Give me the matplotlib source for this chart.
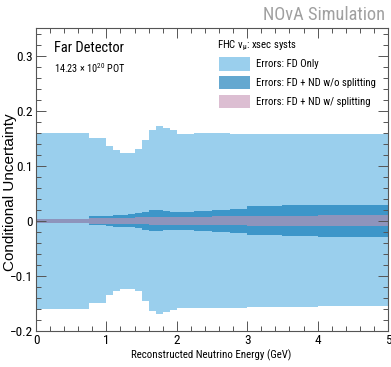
import matplotlib
matplotlib.use("Agg")
import matplotlib.pyplot as plt
from matplotlib.patches import Rectangle
from matplotlib import font_manager as fm
import numpy as np

# ---- data ----
edges = [0, 0.75, 1.0, 1.1, 1.2, 1.3, 1.4, 1.5, 1.6, 1.7, 1.8, 1.9, 2.0,
         2.25, 2.5, 2.75, 3.0, 3.5, 4.0, 5.0]
fd_up = [0.160, 0.151, 0.136, 0.129, 0.124, 0.124, 0.130, 0.146, 0.165, 0.172,
         0.168, 0.165, 0.158, 0.159, 0.159, 0.158, 0.158, 0.157, 0.157]
fd_lo = [-0.160, -0.150, -0.134, -0.128, -0.123, -0.123, -0.128, -0.146, -0.163,
         -0.170, -0.166, -0.162, -0.158, -0.158, -0.158, -0.158, -0.157, -0.156, -0.155]
nosplit_up = [0.004, 0.0087, 0.0095, 0.0105, 0.011, 0.012, 0.0135, 0.016, 0.019,
              0.019, 0.017, 0.016, 0.016, 0.018, 0.020, 0.022, 0.026, 0.028, 0.029]
nosplit_lo = [-0.004, -0.0082, -0.0095, -0.0105, -0.011, -0.012, -0.0135, -0.016,
              -0.018, -0.018, -0.017, -0.016, -0.016, -0.018, -0.020, -0.022,
              -0.026, -0.028, -0.029]
split_up = [0.004, 0.0055, 0.006, 0.006, 0.006, 0.006, 0.0065, 0.0065, 0.007,
            0.007, 0.007, 0.007, 0.0075, 0.0075, 0.008, 0.008, 0.009, 0.0095, 0.010]
split_lo = [-0.004, -0.0055, -0.006, -0.006, -0.006, -0.006, -0.0065, -0.0065,
            -0.007, -0.007, -0.007, -0.007, -0.0075, -0.0075, -0.008, -0.008,
            -0.009, -0.0095, -0.010]
legend_labels = ["Errors: FD Only", "Errors: FD + ND w/o splitting",
                 "Errors: FD + ND w/ splitting"]
xticks = [0, 1, 2, 3, 4, 5]
yticks = [-0.2, -0.1, 0, 0.1, 0.2, 0.3]
ytick_labels = ["\u22120.2", "\u22120.1", "0", "0.1", "0.2", "0.3"]

c_light = "#9acfed"
c_dark = (5/255, 115/255, 179/255)
a_dark = 0.62
c_pink = (197/255, 147/255, 180/255)
a_pink = 0.6


# ---- pick a narrow sans font if one is installed ----
def pick_font():
    prefs = ["Liberation Sans Narrow", "Roboto Condensed", "Open Sans Condensed",
             "Noto Sans", "Open Sans", "DejaVu Sans", "Roboto", "Lato", "Inter"]
    best = None
    for f in fm.fontManager.ttflist:
        nm = f.name
        if any(k in nm for k in ("Serif", "Mono", "CJK")):
            continue
        if f.style != "normal":
            continue
        if f.weight not in (400, "normal", "regular", "book"):
            continue
        narrow = ("Narrow" in nm or "Condensed" in nm or
                  f.stretch in ("condensed", "semi-condensed", "extra-condensed"))
        if not narrow:
            continue
        rank = prefs.index(nm) if nm in prefs else len(prefs)
        if best is None or rank < best[0]:
            best = (rank, f)
    if best is not None:
        return best[1].fname, best[1].name, True
    return fm.findfont("Liberation Sans"), "Liberation Sans", False


FONT_FILE, FONT_NAME, IS_NARROW = pick_font()
REG_FILE = fm.findfont("Liberation Sans")
plt.rcParams["mathtext.default"] = "regular"


def fp(size, fname=FONT_FILE):
    return fm.FontProperties(fname=fname, size=size)


W, H = 391, 367
fig = plt.figure(figsize=(W/100, H/100), dpi=100)
ax = fig.add_axes([36/W, 1-331/H, (388-36)/W, (331-28)/H])

ax.stairs(fd_up, edges, baseline=fd_lo, fill=True, color=c_light, lw=0)
ax.stairs(nosplit_up, edges, baseline=nosplit_lo, fill=True, color=c_dark,
          alpha=a_dark, lw=0)
ax.stairs(split_up, edges, baseline=split_lo, fill=True, color=c_pink,
          alpha=a_pink, lw=0)

ax.set_xlim(0, 5)
ax.set_ylim(-0.2, 0.35)
ax.set_xticks(xticks)
ax.set_xticklabels([str(v) for v in xticks])
ax.set_xticks(np.arange(0, 5.01, 0.2), minor=True)
ax.set_yticks(yticks)
ax.set_yticklabels(ytick_labels)
ax.set_yticks(np.arange(-0.2, 0.351, 0.02), minor=True)
ax.tick_params(which="both", direction="in", top=True, right=True,
               width=0.7, color="#555555", pad=2)
ax.tick_params(which="major", length=7.2)
ax.tick_params(which="minor", length=3.6)
for lbl in ax.get_xticklabels() + ax.get_yticklabels():
    lbl.set_fontproperties(fp(9.5 if IS_NARROW else 8.5))
for s in ax.spines.values():
    s.set_color("#555555")
    s.set_linewidth(0.8)

renderer = fig.canvas.get_renderer()


def fit_text(x, y, s, size, target_w, **kw):
    """Place text at pixel coords; shrink font if wider than target_w px."""
    t = fig.text(x/W, 1-y/H, s, fontproperties=fp(size), **kw)
    w = t.get_window_extent(renderer).width
    if w > target_w:
        t.set_fontproperties(fp(size*target_w/w))
    return t


fit_text(385, 15, "NOvA Simulation", 16, 122, ha="right", va="center",
         color="#a0a0a0")
fit_text(54, 47.5, "Far Detector", 11.5, 70, ha="left", va="center")
fit_text(54, 68, r"14.23 $\times$ 10$^{20}$ POT", 8, 71, ha="left",
         va="center")
fit_text(217, 45.5, r"FHC $\nu_{\mu}$: xsec systs", 8.5, 80, ha="left",
         va="center")

rows = [64, 82.7, 101.7]
cols = [(c_light, 1.0), (c_dark, a_dark), (c_pink, a_pink)]
# common size for legend entries, fitted on the longest one
probe = fig.text(0, 0, legend_labels[1], fontproperties=fp(8.5))
wl = probe.get_window_extent(renderer).width
probe.remove()
leg_size = 8.5 * min(1.0, 118.0/wl)
for yc, (c, a), lab in zip(rows, cols, legend_labels):
    fig.patches.append(Rectangle((219/W, 1-(yc+6.7)/H), 31/W, 13.4/H,
                                 transform=fig.transFigure, color=c, alpha=a,
                                 lw=0))
    fig.text(256/W, 1-yc/H, lab, ha="left", va="center",
             fontproperties=fp(leg_size))

fit_text(211, 355, "Reconstructed Neutrino Energy (GeV)", 8.5, 160,
         ha="center", va="center")
fig.text(10/W, 1-192/H, "Conditional Uncertainty", rotation=90,
         ha="center", va="center", fontproperties=fp(11, REG_FILE))

fig.savefig("out.png", dpi=100)
